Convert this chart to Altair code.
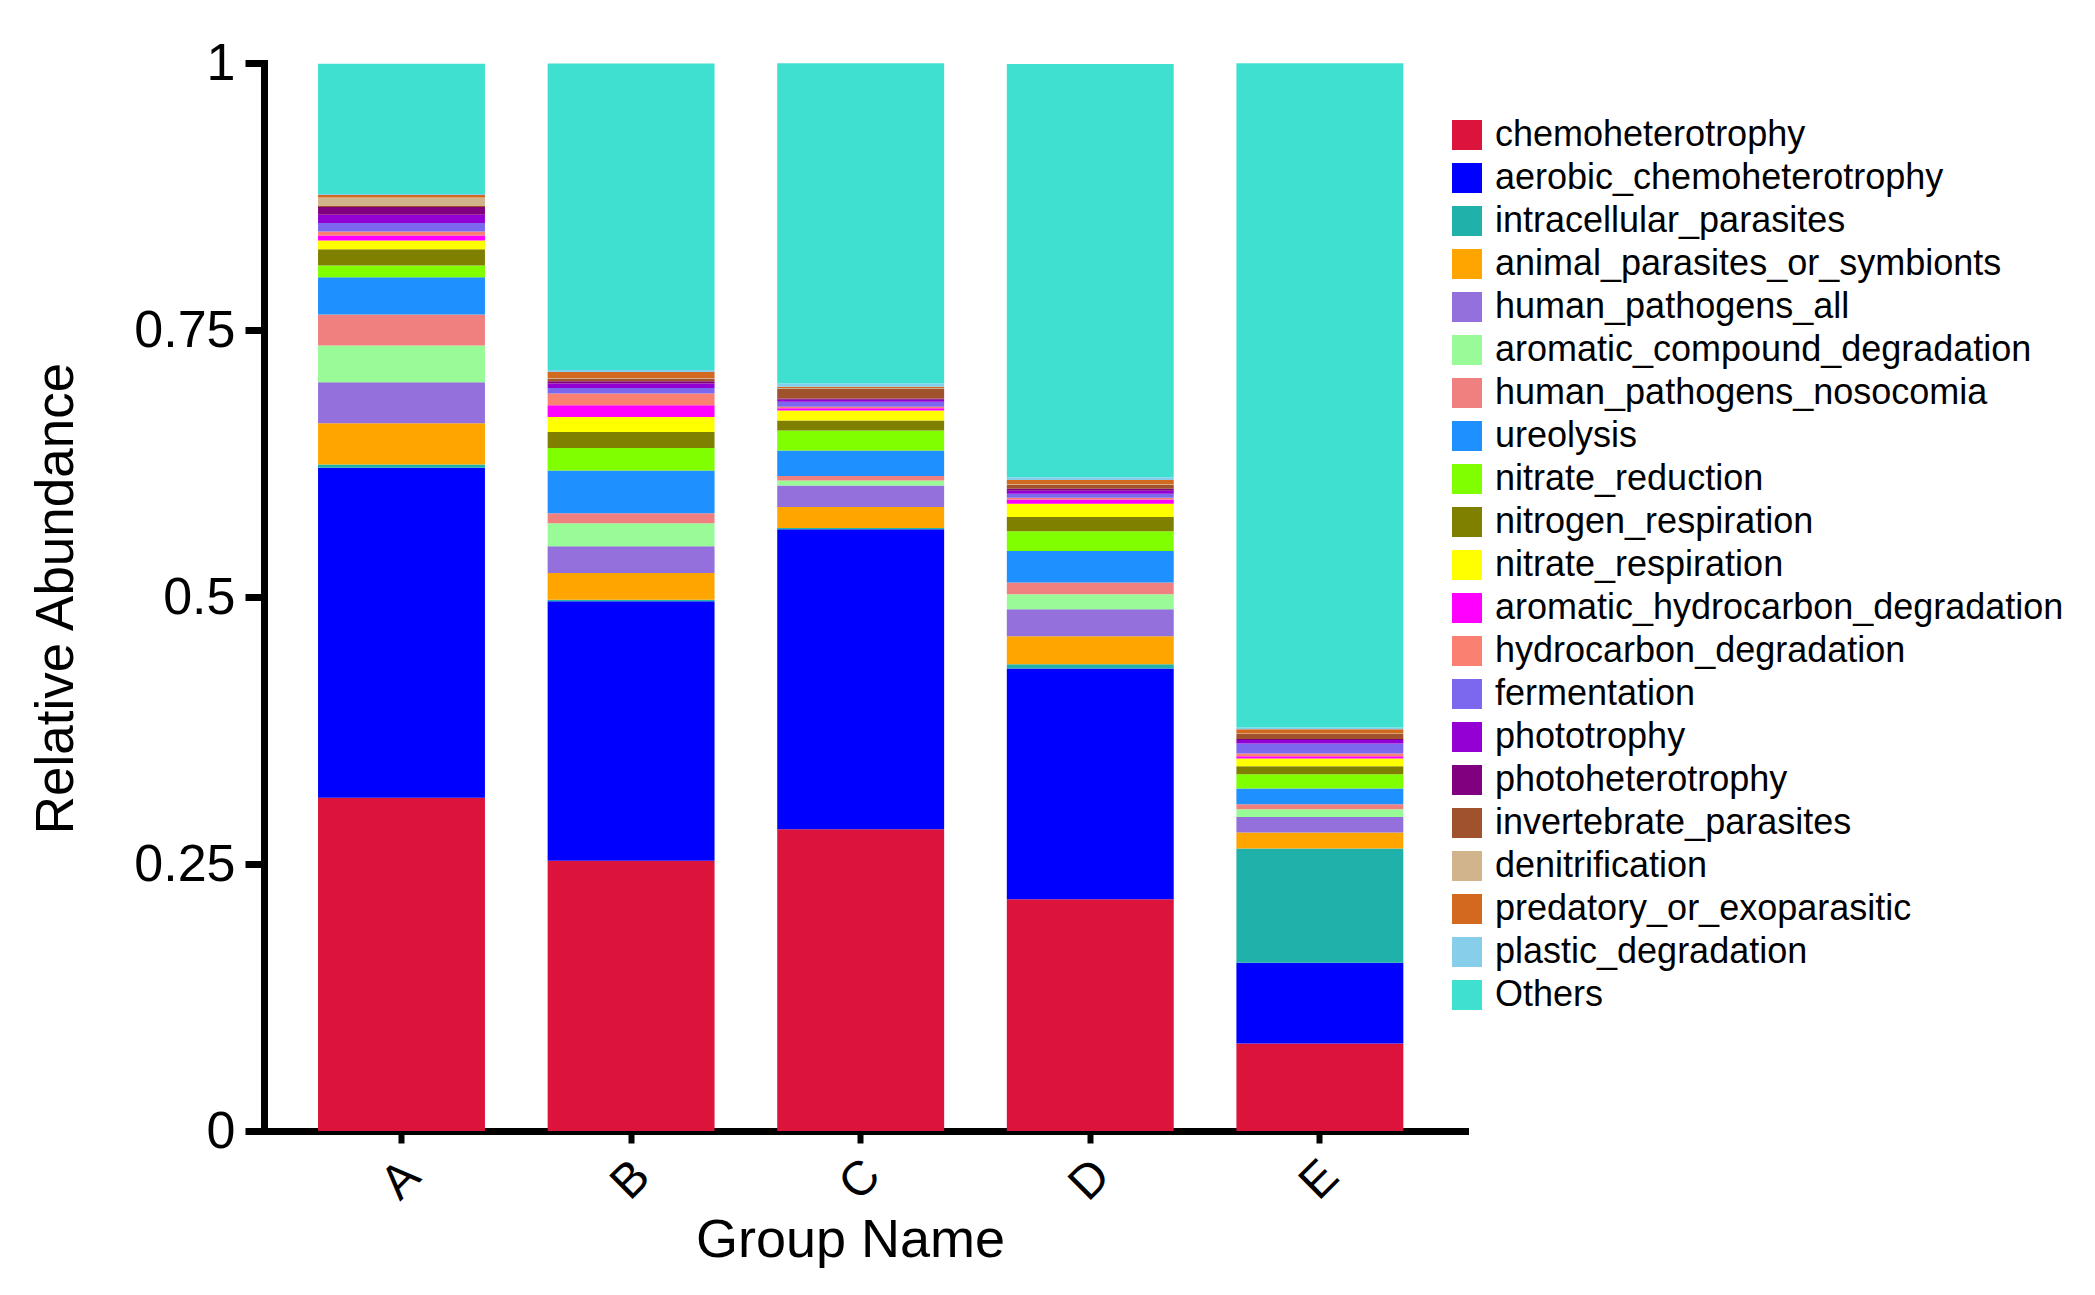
import altair as alt
import pandas as pd

groups = ["A", "B", "C", "D", "E"]

functions = [
    "chemoheterotrophy", "aerobic_chemoheterotrophy", "intracellular_parasites",
    "animal_parasites_or_symbionts", "human_pathogens_all", "aromatic_compound_degradation",
    "human_pathogens_nosocomia", "ureolysis", "nitrate_reduction", "nitrogen_respiration",
    "nitrate_respiration", "aromatic_hydrocarbon_degradation", "hydrocarbon_degradation",
    "fermentation", "phototrophy", "photoheterotrophy", "invertebrate_parasites",
    "denitrification", "predatory_or_exoparasitic", "plastic_degradation", "Others",
]

colors = [
    "#DC143C", "#0000FF", "#20B2AA", "#FFA500", "#9370DB", "#98FB98", "#F08080",
    "#1E90FF", "#7FFF00", "#808000", "#FFFF00", "#FF00FF", "#FA8072", "#7B68EE",
    "#9400D3", "#800080", "#A0522D", "#D2B48C", "#D2691E", "#87CEEB", "#40E0D0",
]

chemo = [0.312, 0.253, 0.2825, 0.217, 0.082]
aerobic = [0.309, 0.243, 0.281, 0.216, 0.0755]
intracellular = [0.003, 0.0015, 0.001, 0.004, 0.107]
animal = [0.0387, 0.025, 0.0197, 0.0262, 0.015]
hp_all = [0.0384, 0.025, 0.0202, 0.0253, 0.0146]
arom_comp = [0.0344, 0.0215, 0.0047, 0.014, 0.0072]
nosocomia = [0.029, 0.0094, 0.0041, 0.011, 0.0047]
ureolysis = [0.035, 0.040, 0.024, 0.0296, 0.0147]
nitrate_red = [0.011, 0.0212, 0.0187, 0.0184, 0.0134]
nitrogen_resp = [0.015, 0.015, 0.0094, 0.0134, 0.0075]
nitrate_resp = [0.0084, 0.014, 0.0094, 0.0125, 0.0072]
arom_hydro = [0.0047, 0.0109, 0.002, 0.004, 0.0022]
hydro = [0.0037, 0.011, 0.0014, 0.0016, 0.0025]
ferment = [0.0078, 0.0053, 0.0047, 0.0037, 0.0094]
phototrophy = [0.0079, 0.004, 0.0019, 0.0028, 0.0031]
photohet = [0.0071, 0.0022, 0.0012, 0.0019, 0.001]
invert = [0.001, 0.0025, 0.0094, 0.0037, 0.0047]
denit = [0.0079, 0.0005, 0.0005, 0.0005, 0.0005]
predatory = [0.0024, 0.0056, 0.001, 0.004, 0.004]
plastic = [0.001, 0.002, 0.003, 0.0025, 0.0015]
others = [0.122, 0.287, 0.300, 0.387, 0.622]

series = [chemo, aerobic, intracellular, animal, hp_all, arom_comp, nosocomia,
          ureolysis, nitrate_red, nitrogen_resp, nitrate_resp, arom_hydro, hydro,
          ferment, phototrophy, photohet, invert, denit, predatory, plastic, others]

rows = []
for i, (f, vals) in enumerate(zip(functions, series)):
    for g, v in zip(groups, vals):
        rows.append({"group": g, "function": f, "value": v, "idx": i})
df = pd.DataFrame(rows)

FONT = "Liberation Sans"

chart = alt.Chart(df).mark_bar().encode(
    x=alt.X(
        "group:N", sort=groups,
        scale=alt.Scale(paddingInner=0.273, paddingOuter=0.252, align=0.467),
        axis=alt.Axis(
            title="Group Name", labelAngle=-45, labelAlign="center", labelBaseline="middle",
            labelFont=FONT, labelFontSize=48, labelColor="black", labelPadding=37,
            tickSize=12, tickWidth=6, tickColor="black",
            domainColor="black", domainWidth=7, domainCap="square",
            titleFont=FONT, titleFontSize=54, titleFontWeight="normal", titleColor="black",
            titleX=586, titleY=109, titleAlign="center", titleBaseline="middle",
        ),
    ),
    y=alt.Y(
        "value:Q", stack="zero",
        scale=alt.Scale(domain=[0, 1], nice=False),
        axis=alt.Axis(
            title="Relative Abundance", values=[0, 0.25, 0.5, 0.75, 1], format=".2~f",
            labelFont=FONT, labelFontSize=52, labelColor="black", labelPadding=10,
            tickSize=19, tickWidth=7, tickColor="black", grid=False,
            domainColor="black", domainWidth=7, domainCap="square",
            titleFont=FONT, titleFontSize=53, titleFontWeight="normal", titleColor="black",
            titleX=-208, titleY=535, titleAngle=-90, titleAlign="center", titleBaseline="middle",
        ),
    ),
    color=alt.Color(
        "function:N",
        scale=alt.Scale(domain=functions, range=colors),
        legend=alt.Legend(
            title=None, orient="none", legendX=1185, legendY=54, padding=0,
            symbolType="square", symbolSize=900, symbolStrokeWidth=0, symbolOpacity=1,
            labelFont=FONT, labelFontSize=36, labelColor="black", labelOffset=10,
            labelLimit=800, rowPadding=7,
        ),
    ),
    order=alt.Order("idx:Q", sort="ascending"),
).properties(
    width=1201, height=1068,
    padding={"left": 256, "top": 55, "right": 610, "bottom": 150},
    autosize=alt.AutoSizeParams(type="none"),
).configure_view(stroke=None)

chart.save("out.html", embed_options={"renderer": "svg", "actions": False})
